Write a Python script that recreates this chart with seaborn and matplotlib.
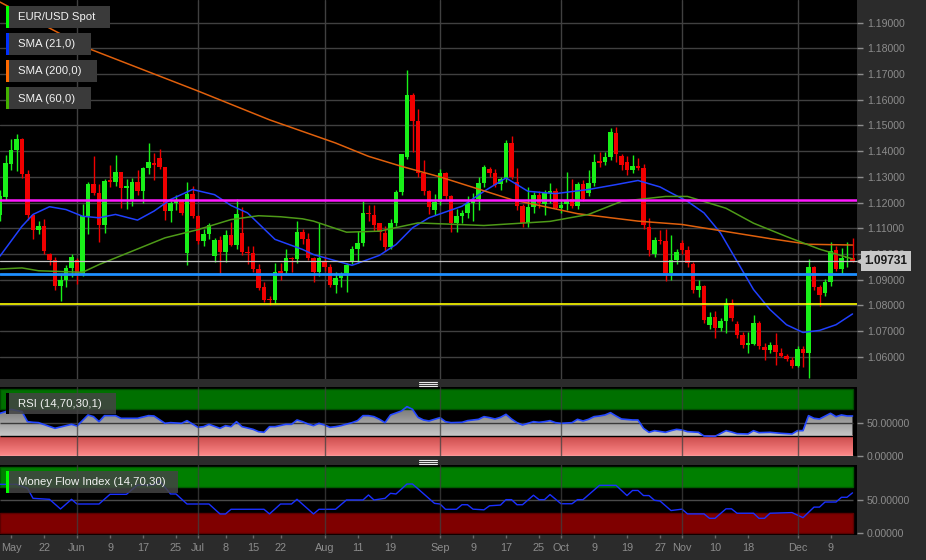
import matplotlib
matplotlib.use("Agg")
import numpy as np
import pandas as pd
import seaborn as sns
from matplotlib import pyplot as plt
from matplotlib.colors import LinearSegmentedColormap
from matplotlib.lines import Line2D
from matplotlib.patches import Rectangle
from matplotlib.path import Path

sns.set_theme(style="dark")
plt.rcParams["font.family"] = ["Liberation Sans", "DejaVu Sans"]

# ---------------- data ----------------
first_day, last_day = "2015-05-12", "2015-12-15"

opens = [
    1.1152, 1.1220, 1.1351, 1.1405, 1.1446, 1.1312, 1.1150, 1.1092, 1.1109, 1.1001,
    1.0975, 1.0876, 1.0900, 1.0946, 1.0978, 1.0924, 1.1146, 1.1271, 1.1237, 1.1112,
    1.1289, 1.1280, 1.1319, 1.1257, 1.1210, 1.1282, 1.1245, 1.1334, 1.1355, 1.1374,
    1.1338, 1.1167, 1.1198, 1.1205, 1.1004, 1.1232, 1.1146, 1.1051, 1.1079, 1.0991,
    1.1053, 1.1008, 1.1073, 1.1034, 1.1080, 1.1008, 1.1003, 1.0941, 1.0871, 1.0825,
    1.0820, 1.0933, 1.0933, 1.0985, 1.0980, 1.1086, 1.1057, 1.0983, 1.0931, 1.0970,
    1.0951, 1.0880, 1.0906, 1.0925, 1.0970, 1.1021, 1.1044, 1.1161, 1.1151, 1.1120,
    1.1080, 1.1026, 1.1122, 1.1240, 1.1379, 1.1618, 1.1517, 1.1314, 1.1247, 1.1171,
    1.1204, 1.1314, 1.1226, 1.1122, 1.1148, 1.1158, 1.1200, 1.1213, 1.1278, 1.1330,
    1.1317, 1.1272, 1.1291, 1.1433, 1.1282, 1.1187, 1.1120, 1.1184, 1.1230, 1.1195,
    1.1239, 1.1245, 1.1180, 1.1193, 1.1215, 1.1187, 1.1271, 1.1237, 1.1276, 1.1360,
    1.1357, 1.1377, 1.1470, 1.1382, 1.1358, 1.1325, 1.1344, 1.1335, 1.1106, 1.1002,
    1.1054, 1.1050, 1.0925, 1.0977, 1.1041, 1.1016, 1.0961, 1.0860, 1.0876, 1.0724,
    1.0756, 1.0714, 1.0741, 1.0808, 1.0728, 1.0685, 1.0647, 1.0650, 1.0731, 1.0637,
    1.0625, 1.0646, 1.0617, 1.0605, 1.0588, 1.0566, 1.0630, 1.0617, 1.0948, 1.0873,
    1.0847, 1.0892, 1.1015, 1.0941, 1.0983, 1.0983]
highs = [
    1.1250, 1.1386, 1.1446, 1.1465, 1.1450, 1.1325, 1.1152, 1.1130, 1.1135, 1.1005,
    1.0988, 1.0926, 1.0959, 1.1001, 1.0985, 1.1193, 1.1280, 1.1380, 1.1271, 1.1293,
    1.1345, 1.1387, 1.1320, 1.1292, 1.1297, 1.1327, 1.1340, 1.1433, 1.1394, 1.1409,
    1.1340, 1.1208, 1.1230, 1.1215, 1.1280, 1.1265, 1.1150, 1.1098, 1.1122, 1.1062,
    1.1072, 1.1092, 1.1125, 1.1215, 1.1183, 1.1030, 1.1030, 1.0960, 1.0890, 1.0835,
    1.0966, 1.0966, 1.1018, 1.0990, 1.1127, 1.1099, 1.1080, 1.0990, 1.1119, 1.0993,
    1.0960, 1.0931, 1.0932, 1.0965, 1.1030, 1.1088, 1.1205, 1.1190, 1.1190, 1.1122,
    1.1110, 1.1135, 1.1250, 1.1390, 1.1716, 1.1625, 1.1563, 1.1366, 1.1250, 1.1232,
    1.1330, 1.1320, 1.1230, 1.1177, 1.1170, 1.1224, 1.1237, 1.1298, 1.1345, 1.1340,
    1.1330, 1.1300, 1.1443, 1.1459, 1.1335, 1.1195, 1.1260, 1.1240, 1.1245, 1.1250,
    1.1275, 1.1255, 1.1215, 1.1318, 1.1290, 1.1280, 1.1289, 1.1325, 1.1388, 1.1396,
    1.1396, 1.1490, 1.1496, 1.1390, 1.1380, 1.1387, 1.1374, 1.1350, 1.1139, 1.1067,
    1.1093, 1.1096, 1.1074, 1.1020, 1.1055, 1.1030, 1.0970, 1.0899, 1.0880, 1.0776,
    1.0777, 1.0750, 1.0828, 1.0824, 1.0740, 1.0695, 1.0698, 1.0763, 1.0738, 1.0655,
    1.0658, 1.0692, 1.0634, 1.0612, 1.0601, 1.0642, 1.0641, 1.0979, 1.0955, 1.0880,
    1.0904, 1.1045, 1.1030, 1.1025, 1.1048, 1.1062]
lows = [
    1.1130, 1.1210, 1.1325, 1.1323, 1.1297, 1.1131, 1.1057, 1.1079, 1.1001, 1.0956,
    1.0859, 1.0816, 1.0872, 1.0911, 1.0885, 1.0914, 1.1079, 1.1230, 1.1047, 1.1083,
    1.1260, 1.1265, 1.1179, 1.1176, 1.1188, 1.1230, 1.1200, 1.1310, 1.1289, 1.1330,
    1.1134, 1.1124, 1.1170, 1.1150, 1.0956, 1.1140, 1.1040, 1.1030, 1.1060, 1.0969,
    1.0918, 1.0969, 1.1030, 1.1020, 1.0995, 1.0962, 1.0930, 1.0860, 1.0815, 1.0802,
    1.0811, 1.0900, 1.0925, 1.0932, 1.0965, 1.1040, 1.0975, 1.0892, 1.0915, 1.0935,
    1.0870, 1.0847, 1.0873, 1.0853, 1.0960, 1.0964, 1.1030, 1.1130, 1.1090, 1.1054,
    1.1010, 1.1020, 1.1110, 1.1230, 1.1370, 1.1395, 1.1300, 1.1230, 1.1155, 1.1150,
    1.1190, 1.1210, 1.1087, 1.1087, 1.1120, 1.1140, 1.1130, 1.1172, 1.1260, 1.1300,
    1.1260, 1.1250, 1.1280, 1.1290, 1.1170, 1.1105, 1.1107, 1.1160, 1.1180, 1.1150,
    1.1200, 1.1175, 1.1160, 1.1170, 1.1180, 1.1175, 1.1205, 1.1225, 1.1263, 1.1340,
    1.1345, 1.1365, 1.1358, 1.1328, 1.1306, 1.1315, 1.1325, 1.1098, 1.0992, 1.0990,
    1.1040, 1.0896, 1.0898, 1.0960, 1.1000, 1.0950, 1.0850, 1.0832, 1.0730, 1.0707,
    1.0673, 1.0700, 1.0692, 1.0740, 1.0675, 1.0635, 1.0617, 1.0645, 1.0630, 1.0588,
    1.0615, 1.0569, 1.0598, 1.0585, 1.0556, 1.0560, 1.0562, 1.0517, 1.0862, 1.0798,
    1.0838, 1.0877, 1.0935, 1.0924, 1.0950, 1.0970]
closes = [
    1.1225, 1.1355, 1.1405, 1.1446, 1.1312, 1.1150, 1.1092, 1.1109, 1.1010, 1.0978,
    1.0876, 1.0900, 1.0946, 1.0988, 1.0924, 1.1146, 1.1271, 1.1237, 1.1112, 1.1286,
    1.1280, 1.1319, 1.1257, 1.1265, 1.1280, 1.1245, 1.1334, 1.1357, 1.1347, 1.1338,
    1.1167, 1.1198, 1.1205, 1.1160, 1.1235, 1.1146, 1.1051, 1.1079, 1.1112, 1.1053,
    1.1008, 1.1073, 1.1034, 1.1157, 1.1008, 1.1003, 1.0941, 1.0868, 1.0823, 1.0820,
    1.0930, 1.0927, 1.0985, 1.0980, 1.1086, 1.1060, 1.0983, 1.0931, 1.0983, 1.0951,
    1.0880, 1.0906, 1.0919, 1.0958, 1.1021, 1.1042, 1.1161, 1.1155, 1.1112, 1.1085,
    1.1026, 1.1122, 1.1240, 1.1388, 1.1618, 1.1517, 1.1314, 1.1247, 1.1184, 1.1204,
    1.1314, 1.1226, 1.1122, 1.1148, 1.1158, 1.1200, 1.1206, 1.1278, 1.1337, 1.1317,
    1.1269, 1.1291, 1.1433, 1.1301, 1.1187, 1.1120, 1.1184, 1.1230, 1.1197, 1.1239,
    1.1245, 1.1180, 1.1192, 1.1209, 1.1187, 1.1271, 1.1215, 1.1276, 1.1358, 1.1355,
    1.1377, 1.1474, 1.1390, 1.1345, 1.1325, 1.1342, 1.1335, 1.1111, 1.1016, 1.1054,
    1.1050, 1.0925, 1.0977, 1.1006, 1.1016, 1.0964, 1.0860, 1.0876, 1.0744, 1.0756,
    1.0714, 1.0741, 1.0808, 1.0750, 1.0685, 1.0646, 1.0653, 1.0731, 1.0644, 1.0627,
    1.0646, 1.0618, 1.0605, 1.0592, 1.0566, 1.0630, 1.0614, 1.0948, 1.0873, 1.0841,
    1.0892, 1.1012, 1.0941, 1.0986, 1.0987, 1.0973]

# moving averages, read as (bar index, value)
sma21_idx = [0, 4, 6, 9, 12, 15, 18, 21, 25, 28, 31, 35, 39, 42, 45, 50, 55, 57, 64, 69,
             72, 75, 78, 84, 88, 92, 96, 101, 107, 112, 116, 120, 122, 125, 128, 131, 134,
             137, 140, 143, 146, 149, 152, 155]
sma21_val = [1.0992, 1.1108, 1.1154, 1.1184, 1.1173, 1.1147, 1.1141, 1.1154, 1.1132, 1.1167,
             1.1212, 1.1251, 1.1231, 1.1189, 1.1160, 1.1057, 1.1018, 1.0998, 1.0956, 1.0995,
             1.1037, 1.1102, 1.1141, 1.1186, 1.1244, 1.1296, 1.1244, 1.1235, 1.1251, 1.1270,
             1.1286, 1.1261, 1.1238, 1.1205, 1.1160, 1.1082, 1.0972, 1.0862, 1.0784, 1.0725,
             1.0695, 1.0703, 1.0725, 1.0767]
sma60_idx = [0, 4, 7, 15, 18, 24, 30, 36, 42, 47, 51, 55, 57, 63, 69, 76, 88, 100, 107, 113,
             121, 125, 132, 137, 143, 149, 155]
sma60_val = [1.0942, 1.0946, 1.0935, 1.0929, 1.0959, 1.1011, 1.1063, 1.1095, 1.1134, 1.1149,
             1.1145, 1.1137, 1.1128, 1.1085, 1.1089, 1.1121, 1.1111, 1.1127, 1.1154, 1.1205,
             1.1224, 1.1224, 1.1178, 1.1120, 1.1068, 1.1019, 1.0981]
sma200_idx = [0, 16, 36, 49, 55, 61, 67, 73, 80, 93, 105, 116, 124, 140, 147, 155]
sma200_val = [1.1980, 1.1800, 1.1634, 1.1522, 1.1477, 1.1432, 1.1380, 1.1341, 1.1300, 1.1212,
              1.1157, 1.1128, 1.1115, 1.1060, 1.1038, 1.1035]

level_prices = [1.1210, 1.0922, 1.0805]
last_price = 1.09731

rsi_idx = [0, 1, 2, 4, 5, 6, 7, 10, 12, 13, 14, 16, 17, 18, 19, 21, 22, 25, 27, 28,
           30, 31, 33, 34, 35, 36, 37, 38, 40, 41, 42, 43, 44, 46, 47, 48, 49, 50, 52, 53,
           54, 55, 56, 57, 58, 59, 60, 61, 62, 64, 65, 66, 67, 68, 69, 70, 71, 73, 74, 75,
           76, 77, 78, 80, 81, 82, 84, 85, 87, 88, 89, 90, 91, 92, 93, 94, 95, 96, 97, 98,
           99, 100, 101, 102, 104, 105, 106, 107, 108, 109, 110, 111, 112, 113, 115, 116, 117, 118, 119, 121,
           122, 123, 124, 125, 127, 128, 130, 132, 133, 134, 136, 137, 138, 140, 142, 144, 145, 146, 147, 148,
           149, 151, 152, 153, 154, 155]
rsi_val = [64, 66.5, 70, 66.5, 51.5, 50.5, 50, 41.5, 45.5, 47.5, 45, 61.5, 59, 51.5, 60.5, 60.5, 56.5, 56.5, 60.5, 60,
           49, 50, 49, 53, 48, 43, 44, 47.5, 41.5, 45.5, 44, 51.5, 44, 40, 36.5, 35.5, 44, 44, 47.5, 47.5,
           54, 51.5, 48, 45.5, 49, 46.5, 43, 44, 45.5, 50, 53, 60.5, 60.5, 59, 55, 50, 61.5, 67.5, 74, 70,
           58, 54, 52.5, 57.5, 51.5, 50, 50.5, 53, 55, 59, 57.5, 55.5, 58, 62.5, 55.5, 50, 46.5, 49, 51.5, 50.5,
           51.5, 53, 50, 49, 50, 55, 52.5, 55, 59, 60, 61.5, 65, 60, 55.5, 54, 54, 41.5, 35.5, 38, 35.5,
           38, 40, 39, 36.5, 35.5, 30, 29.5, 38, 36, 33.5, 33, 38, 35, 35.5, 34, 33, 38, 38, 60.5, 56.5,
           55.5, 64, 59, 61.5, 60, 60]

mfi_idx = [0, 3, 5, 6, 9, 11, 13, 14, 18, 20, 23, 25, 28, 29, 31, 32, 34, 38, 40, 41,
           42, 48, 49, 51, 53, 54, 57, 58, 61, 63, 66, 67, 68, 70, 71, 72, 74, 75, 79, 80,
           81, 83, 84, 85, 86, 88, 89, 91, 92, 93, 94, 95, 97, 98, 99, 100, 102, 104, 105, 106,
           109, 112, 114, 115, 116, 117, 118, 119, 120, 122, 124, 125, 128, 129, 130, 132, 133, 134, 137, 138,
           139, 140, 144, 146, 148, 149, 150, 152, 153, 154, 155]
mfi_val = [73.7, 73.7, 67.7, 52.5, 51, 36.4, 51, 43.9, 43.9, 58.6, 58.6, 72.7, 72.7, 79.3, 59.1, 59.1, 43.9, 43.9, 28.8, 28.8,
           35.9, 35.9, 28.8, 43.9, 43.9, 51, 28.8, 35.9, 35.9, 50, 50, 57.6, 50, 52.5, 60.1, 59.1, 74.2, 74.2, 44.9, 43.9,
           35.9, 35.9, 42.8, 42.8, 36.1, 35.1, 41.2, 42.3, 50.5, 50.5, 42.8, 42.8, 57.2, 50.5, 50.5, 58.2, 44.3, 44.3, 50.5, 50.5,
           72.2, 72.2, 56.7, 64.4, 64.4, 56.7, 56.7, 49.5, 48.5, 34, 36.1, 28.9, 28.9, 22.2, 22.2, 36.6, 36.6, 29.9, 29.9, 22.2,
           22.2, 29.9, 30.9, 23.2, 39.2, 39.2, 46.9, 46.9, 54.1, 54.1, 60.8]

tick_dates = ["2015-05-14", "2015-05-22", "2015-06-01", "2015-06-09", "2015-06-17", "2015-06-25",
              "2015-07-01", "2015-07-08", "2015-07-15", "2015-07-22", "2015-08-03", "2015-08-11",
              "2015-08-19", "2015-09-01", "2015-09-09", "2015-09-17", "2015-09-25", "2015-10-01",
              "2015-10-09", "2015-10-19", "2015-10-27", "2015-11-02", "2015-11-10", "2015-11-18",
              "2015-12-01", "2015-12-09"]
tick_labels = ["May", "22", "Jun", "9", "17", "25", "Jul", "8", "15", "22", "Aug", "11", "19",
               "Sep", "9", "17", "25", "Oct", "9", "19", "27", "Nov", "10", "18", "Dec", "9"]

# ---------------- layout helpers ----------------
W, H = 926, 560
BG = "#2b2b2b"
GRID = "#404040"
LABEL = "#8c8c8c"
UP, DOWN = "#19f019", "#f00000"


def px_box(l, t, r, b):
    return [l / W, 1 - b / H, (r - l) / W, (b - t) / H]


dates = pd.bdate_range(first_day, last_day)
x = np.arange(len(dates))
last_x = x[-1]
month_idx = [i for i in range(1, len(dates)) if dates[i].month != dates[i - 1].month]
tick_idx = [dates.get_loc(pd.Timestamp(d)) for d in tick_dates]
xmax = 857 / 5.5

fig = plt.figure(figsize=(W / 100, H / 100), dpi=100)
fig.patch.set_facecolor(BG)
ax = fig.add_axes(px_box(0, 0, 857, 379))
ax_rsi = fig.add_axes(px_box(0, 387.3, 857, 456))
ax_mfi = fig.add_axes(px_box(0, 465, 857, 534.7))

for a in (ax, ax_rsi, ax_mfi):
    a.set_facecolor("black")
    a.grid(False)
    for s in a.spines.values():
        s.set_visible(False)
    a.yaxis.tick_right()
    a.tick_params(axis="y", which="both", right=True, left=False, length=4, width=1,
                  color=LABEL, labelcolor=LABEL, labelsize=7.6, pad=3)
    for m in month_idx:
        a.axvline(m, color=GRID, lw=1, zorder=1 if a is ax else 7,
                  alpha=1 if a is ax else 0.75)

# ---------------- price panel ----------------
o, h, l, c = (np.array(v) for v in (opens, highs, lows, closes))
cols = np.where(c >= o, UP, DOWN)
price_ticks = np.round(np.arange(1.06, 1.1951, 0.01), 2)
for p in price_ticks:
    ax.axhline(p, color=GRID, lw=1, zorder=1)

ax.vlines(x, l, h, colors=cols, lw=1.0, zorder=3)
ax.bar(x, np.maximum(np.abs(c - o), 0.00012), bottom=np.minimum(o, c), width=0.78,
       color=cols, linewidth=0, zorder=4)

sma = pd.concat([
    pd.DataFrame({"idx": sma21_idx, "value": sma21_val, "series": "SMA (21,0)"}),
    pd.DataFrame({"idx": sma200_idx, "value": sma200_val, "series": "SMA (200,0)"}),
    pd.DataFrame({"idx": sma60_idx, "value": sma60_val, "series": "SMA (60,0)"}),
])
sma_colors = {"SMA (21,0)": "#2040ff", "SMA (200,0)": "#e0600c", "SMA (60,0)": "#4e9a18"}
sns.lineplot(data=sma, x="idx", y="value", hue="series", palette=sma_colors,
             estimator=None, legend=False, lw=1.1, ax=ax, zorder=5)

ax.axhline(last_price, color="#c4c4c4", lw=0.9, zorder=6)
for p, col, lw in zip(level_prices, ["#ff1aff", "#1e8fff", "#ffff00"], [1.8, 2.0, 1.2]):
    ax.axhline(p, color=col, lw=lw, zorder=6)

ax.set_xlim(0, xmax)
ax.set_ylim(1.0514, 1.1988)
ax.set_yticks(price_ticks)
ax.set_yticklabels([f"{p:.5f}" for p in price_ticks])
ax.set_xticks([])
ax.set_xlabel("")
ax.set_ylabel("")

ax.annotate(f"{last_price:.5f}", xy=(1, last_price), xycoords=ax.get_yaxis_transform(),
            xytext=(5.5, 0), textcoords="offset points", ha="left", va="center",
            fontsize=8.6, fontweight="bold", color="#1a1a1a", annotation_clip=False,
            bbox=dict(boxstyle="square,pad=0.32", fc="#c8c8c8", ec="none"), zorder=10)
ax.plot([1.004], [last_price], marker="<", ms=5, color="#c8c8c8",
        transform=ax.get_yaxis_transform(), clip_on=False, zorder=10)

# ---------------- RSI panel ----------------
rx, ry = np.array(rsi_idx, float), np.array(rsi_val, float)
red_cmap = LinearSegmentedColormap.from_list("rband", ["#ff8a8a", "#c84848"])
gray_cmap = LinearSegmentedColormap.from_list("gfill", ["#c8c8c8", "#666666"])
grad = np.linspace(0, 1, 256).reshape(-1, 1)
ax_rsi.imshow(grad, extent=[0, last_x, 0, 30], origin="lower", aspect="auto",
              cmap=red_cmap, zorder=2)
verts = np.vstack([[rx[0], 30], np.column_stack([rx, np.maximum(ry, 30)]),
                   [rx[-1], 30], [rx[0], 30]])
im = ax_rsi.imshow(grad, extent=[0, last_x, 30, 80], origin="lower", aspect="auto",
                   cmap=gray_cmap, zorder=3)
im.set_clip_path(Path(verts, closed=True), transform=ax_rsi.transData)
ax_rsi.add_patch(Rectangle((0, 70), last_x, 30, fc="#007a00", ec="#004d00", lw=1,
                           alpha=0.92, zorder=4))
ax_rsi.hlines(30, 0, last_x, color="black", lw=1, zorder=5)
ax_rsi.hlines(0, 0, last_x, color="#d8d8d8", lw=1, zorder=5)
ax_rsi.hlines(50, 0, last_x, color="#3a3a3a", lw=1, zorder=5)
sns.lineplot(x=rx, y=ry, color="#2448ff", lw=1.2, ax=ax_rsi, zorder=6)

# ---------------- MFI panel ----------------
ax_mfi.add_patch(Rectangle((0, 70), last_x, 30, fc="#007f00", ec="#005c00", lw=1, zorder=2))
ax_mfi.add_patch(Rectangle((0, 0), last_x, 30, fc="#7f0000", ec="#5c0000", lw=1, zorder=2))
ax_mfi.hlines(50, 0, last_x, color="#4a4a4a", lw=1, zorder=3)
sns.lineplot(x=np.array(mfi_idx, float), y=np.array(mfi_val, float), color="#1a30ff",
             lw=1.0, ax=ax_mfi, zorder=6)

for a, lo in ((ax_rsi, 0), (ax_mfi, -2.6)):
    a.set_xlim(0, xmax)
    a.set_ylim(lo, 103)
    a.set_yticks([0, 50])
    a.set_yticklabels(["0.00000", "50.00000"])
    a.set_xlabel("")
    a.set_ylabel("")
ax_rsi.set_xticks([])
ax_mfi.set_xticks(tick_idx)
ax_mfi.set_xticklabels(tick_labels)
ax_mfi.tick_params(axis="x", bottom=True, length=2, width=1, color="#6a6a6a",
                   labelcolor=LABEL, labelsize=7.8, pad=4)

# ---------------- legend boxes and handles ----------------
def px_rect(l, t, r, b, **kw):
    fig.add_artist(Rectangle((l / W, 1 - b / H), (r - l) / W, (b - t) / H,
                             transform=fig.transFigure, **kw))


def px_text(xp, yp, s, **kw):
    fig.text(xp / W, 1 - yp / H, s, va="center", ha="left", fontsize=8.2,
             color="#f2f2f2", **kw)


legend_names = ["EUR/USD Spot", "SMA (21,0)", "SMA (200,0)", "SMA (60,0)"]
legend_colors = ["#00ff00", "#0030ff", "#ff6a00", "#44b000"]
legend_rows = [(5.7, 27.7, 110), (32.7, 55, 91), (60, 82, 97), (87, 109, 91)]
for name, col, (t, b, r) in zip(legend_names, legend_colors, legend_rows):
    px_rect(6, t, r, b, fc="#3a3a3a", ec="none", zorder=20)
    px_rect(6, t, 9, b, fc=col, ec="none", zorder=21)
    px_text(18.3, (t + b) / 2 + 0.5, name, zorder=22)

px_rect(6, 393.3, 116, 414.3, fc="#444444", ec="none", alpha=0.85, zorder=20)
px_rect(6, 393.3, 9, 414.3, fc="black", ec="none", zorder=21)
px_text(18.3, 404.3, "RSI (14,70,30,1)", zorder=22)
px_rect(6, 470.7, 178, 492.7, fc="#444444", ec="none", alpha=0.85, zorder=20)
px_rect(6, 470.7, 9, 492.7, fc="#00ff00", ec="none", zorder=21)
px_text(18.3, 482, "Money Flow Index (14,70,30)", zorder=22)

for yp in (382, 384, 386, 460, 462, 464):
    fig.add_artist(Line2D([419 / W, 437 / W], [1 - yp / H] * 2, color="#e8e8e8",
                          lw=0.8, transform=fig.transFigure))

fig.savefig("out.png", dpi=100, facecolor=fig.get_facecolor())
